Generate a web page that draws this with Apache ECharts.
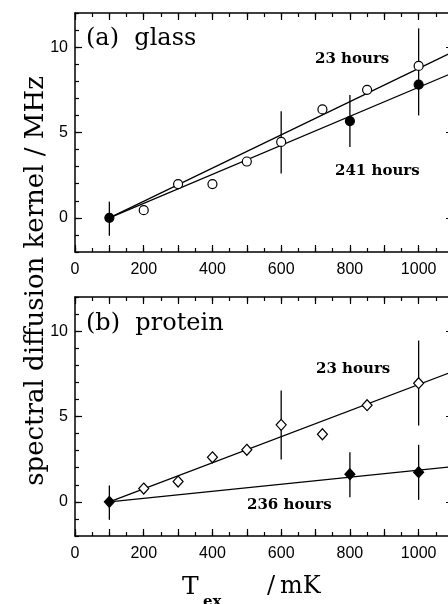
<!DOCTYPE html>
<html>
<head>
<meta charset="utf-8">
<script src="https://cdn.jsdelivr.net/npm/echarts@6/dist/echarts.min.js"></script>
<style>
  html, body { margin: 0; padding: 0; background: #fff; }
  #grafico { width: 448px; height: 604px; }
</style>
</head>
<body>
<div id="grafico"></div>
<script>
// Datos: [T_ex (mK), kernel (MHz)]
const glass23 = [[200, 0.45], [300, 1.98], [400, 1.98], [500, 3.3], [600, 4.45], [720, 6.35], [850, 7.5], [1000, 8.9]];
const glass241 = [[100, 0], [800, 5.67], [1000, 7.8]];
const glassErr = [[100, -1.05, 0.95], [600, 2.6, 6.25], [800, 4.15, 7.2], [1000, 6.0, 11.1]];
const glassFit23 = [[100, 0], [1100, 9.72]];
const glassFit241 = [[100, 0], [1100, 8.5]];

const protein23 = [[200, 0.78], [300, 1.19], [400, 2.61], [500, 3.05], [600, 4.51], [720, 3.96], [850, 5.66], [1000, 6.95]];
const protein236 = [[100, 0], [800, 1.62], [1000, 1.74]];
const proteinErr = [[100, -1.05, 0.96], [600, 2.48, 6.53], [800, 0.27, 2.9], [1000, 0.12, 3.34], [1000, 4.47, 9.45]];
const proteinFit23 = [[100, 0], [1100, 7.64]];
const proteinFit236 = [[100, 0], [1100, 2.07]];

const xRange = [0, 1100];
const yRange = [-2, 12];
const yLabelTicks = [0, 5, 10];

const chartDom = document.getElementById('grafico');
const myChart = echarts.init(chartDom);

const ink = '#000';
const tickFont = { color: ink, fontFamily: 'Liberation Sans', fontSize: 16 };

// Ejes de un panel: abajo/arriba (menor + mayor), izquierda/derecha (menor + mayor)
function xAxesFor(g) {
    const base = { gridIndex: g, type: 'value', min: xRange[0], max: xRange[1], splitLine: { show: false } };
    const axes = [];
    ['bottom', 'top'].forEach(pos => {
        axes.push(Object.assign({}, base, {
            position: pos, interval: 50,
            axisLine: { show: true, onZero: false, lineStyle: { color: ink, width: 1.5 } },
            axisTick: { inside: true, length: 4, lineStyle: { color: ink, width: 1.2 } },
            axisLabel: { show: false }
        }));
        axes.push(Object.assign({}, base, {
            position: pos, interval: 100,
            axisLine: { show: false, onZero: false },
            axisTick: { inside: true, length: 7, lineStyle: { color: ink, width: 1.2 } },
            axisLabel: pos === 'bottom'
                ? Object.assign({ margin: 10, formatter: v => (v % 200 === 0 ? String(v) : '') }, tickFont)
                : { show: false }
        }));
    });
    return axes;
}

function yAxesFor(g) {
    const base = { gridIndex: g, type: 'value', min: yRange[0], max: yRange[1], splitLine: { show: false } };
    const axes = [];
    ['left', 'right'].forEach(pos => {
        axes.push(Object.assign({}, base, {
            position: pos, interval: 1,
            axisLine: { show: true, onZero: false, lineStyle: { color: ink, width: 1.5 } },
            axisTick: { inside: true, length: 4, lineStyle: { color: ink, width: 1.2 } },
            axisLabel: { show: false }
        }));
        axes.push(Object.assign({}, base, {
            position: pos, interval: 1,
            axisLine: { show: false, onZero: false },
            axisTick: { inside: true, length: 7, customValues: yLabelTicks, lineStyle: { color: ink, width: 1.2 } },
            axisLabel: pos === 'left'
                ? Object.assign({ margin: 7, customValues: yLabelTicks }, tickFont)
                : { show: false }
        }));
    });
    return axes;
}

// Barras de error verticales
function errorSeries(data, xi, yi) {
    return {
        type: 'custom', xAxisIndex: xi, yAxisIndex: yi, data: data, z: 2,
        encode: { x: 0, y: [1, 2] },
        renderItem: (params, api) => {
            const lo = api.coord([api.value(0), api.value(1)]);
            const hi = api.coord([api.value(0), api.value(2)]);
            return { type: 'line', shape: { x1: lo[0], y1: lo[1], x2: hi[0], y2: hi[1] },
                     style: { stroke: ink, lineWidth: 1.3 } };
        }
    };
}

function fitSeries(data, xi, yi) {
    return { type: 'line', xAxisIndex: xi, yAxisIndex: yi, data: data, symbol: 'none', z: 3,
             lineStyle: { color: ink, width: 1.3 }, silent: true, animation: false };
}

function pointSeries(data, xi, yi, symbol, filled) {
    return { type: 'scatter', xAxisIndex: xi, yAxisIndex: yi, data: data, z: 4,
             symbol: symbol, symbolSize: symbol === 'diamond' ? [10, 11] : 9,
             itemStyle: { color: filled ? ink : '#fff', borderColor: ink, borderWidth: 1.2, opacity: 1 } };
}

// Indices: panel a -> x 1, y 1 ; panel b -> x 5, y 5
const option = {
    backgroundColor: '#fff',
    animation: false,
    grid: [
        { left: 75, top: 13, width: 378, height: 239, outerBoundsMode: 'none', containLabel: false },
        { left: 75, top: 297, width: 378, height: 239, outerBoundsMode: 'none', containLabel: false }
    ],
    xAxis: xAxesFor(0).concat(xAxesFor(1)),
    yAxis: yAxesFor(0).concat(yAxesFor(1)),
    series: [
        errorSeries(glassErr, 1, 1),
        fitSeries(glassFit23, 1, 1),
        fitSeries(glassFit241, 1, 1),
        pointSeries(glass23, 1, 1, 'circle', false),
        pointSeries(glass241, 1, 1, 'circle', true),

        errorSeries(proteinErr, 5, 5),
        fitSeries(proteinFit23, 5, 5),
        fitSeries(proteinFit236, 5, 5),
        pointSeries(protein23, 5, 5, 'diamond', false),
        pointSeries(protein236, 5, 5, 'diamond', true)
    ],
    graphic: [
        { type: 'text', left: 86, top: 27, style: { text: '(a)  glass', fill: ink, font: '24px "DejaVu Serif"' } },
        { type: 'text', left: 86, top: 312, style: { text: '(b)  protein', fill: ink, font: '24px "DejaVu Serif"' } },
        { type: 'text', left: 315, top: 52, style: { text: '23 hours', fill: ink, font: 'bold 15px "DejaVu Serif"' } },
        { type: 'text', left: 335, top: 164, style: { text: '241 hours', fill: ink, font: 'bold 15px "DejaVu Serif"' } },
        { type: 'text', left: 316, top: 362, style: { text: '23 hours', fill: ink, font: 'bold 15px "DejaVu Serif"' } },
        { type: 'text', left: 247, top: 498, style: { text: '236 hours', fill: ink, font: 'bold 15px "DejaVu Serif"' } },
        // Titulo del eje Y (compartido)
        { type: 'text', x: 36, y: 281, rotation: Math.PI / 2,
          style: { text: 'spectral diffusion kernel / MHz', fill: ink, font: '26px "DejaVu Serif"',
                   align: 'center', verticalAlign: 'middle' } },
        // Titulo del eje X
        { type: 'text', x: 182, y: 587, style: { text: 'T', fill: ink, font: '25px "DejaVu Serif"', align: 'left', verticalAlign: 'middle' } },
        { type: 'text', x: 203, y: 602, style: { text: 'ex', fill: ink, font: 'bold 15px "DejaVu Serif"', align: 'left', verticalAlign: 'middle' } },
        { type: 'text', x: 271, y: 587, style: { text: '/', fill: ink, font: '24px "DejaVu Serif"', align: 'center', verticalAlign: 'middle' } },
        { type: 'text', x: 280, y: 587, style: { text: 'mK', fill: ink, font: '24px "DejaVu Serif"', align: 'left', verticalAlign: 'middle' } }
    ]
};

option && myChart.setOption(option);

window.addEventListener('resize', () => {
    myChart.resize();
});
</script>
</body>
</html>
